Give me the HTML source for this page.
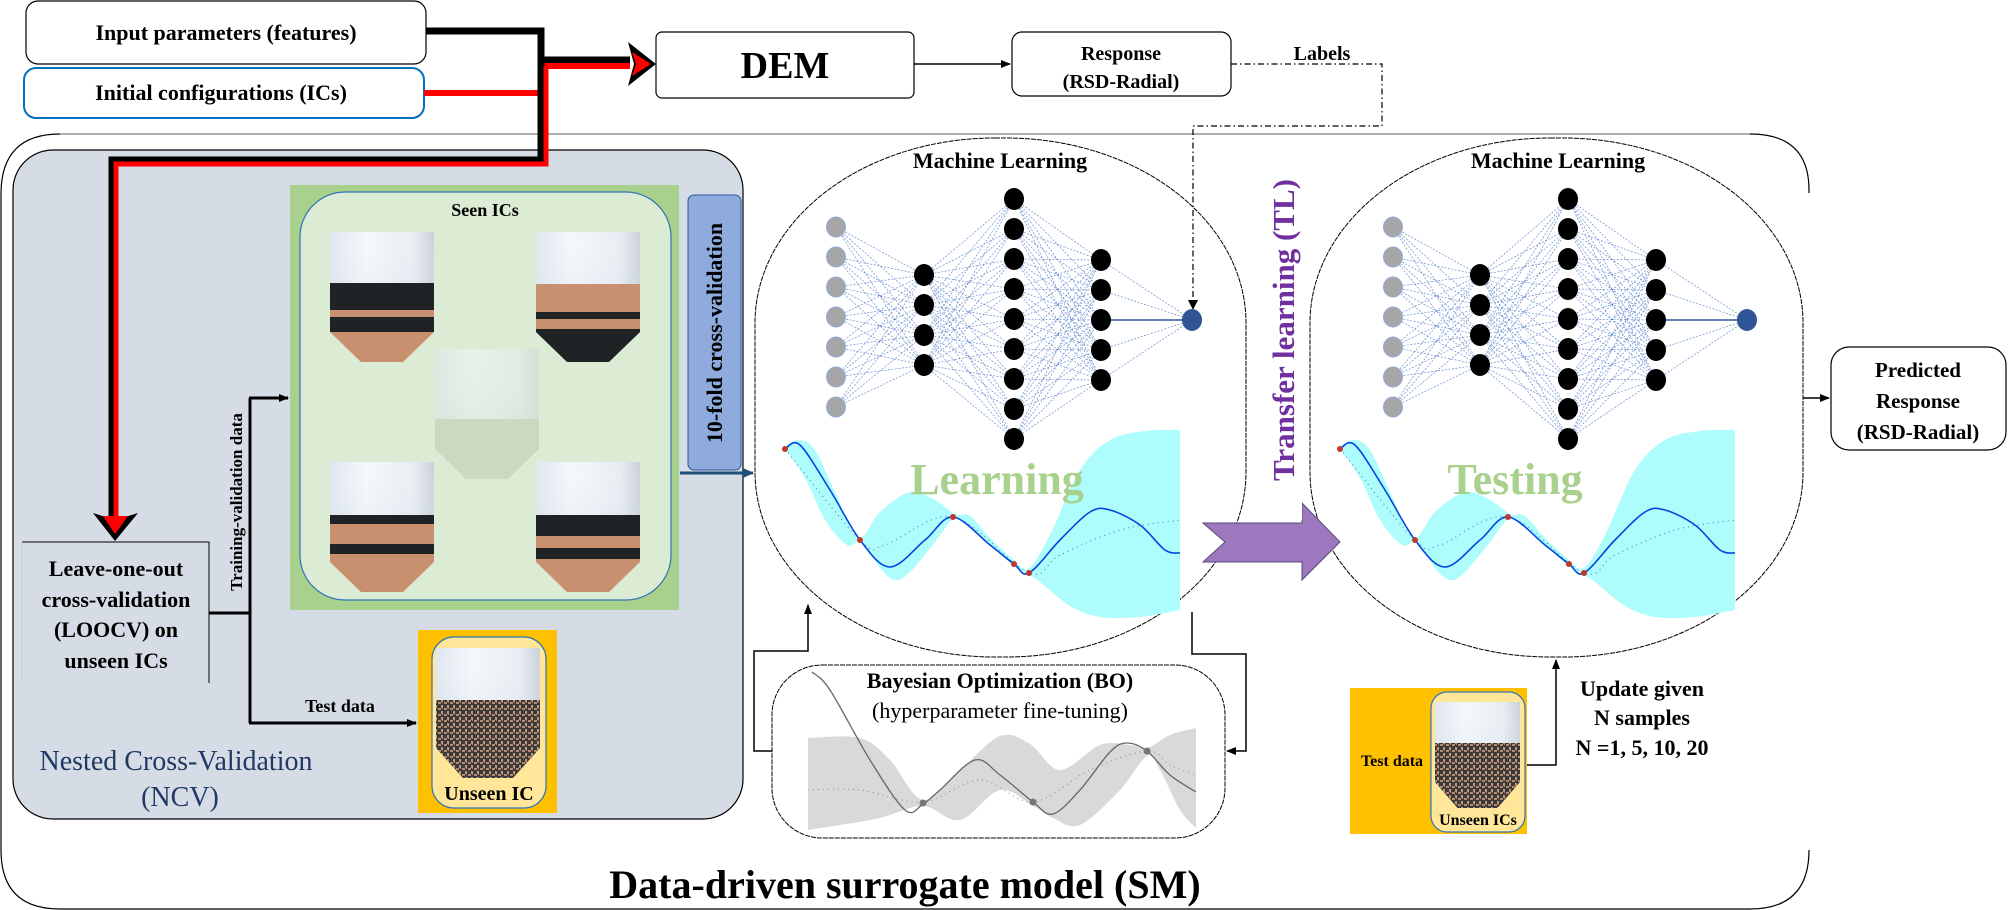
<!DOCTYPE html>
<html><head><meta charset="utf-8">
<style>
html,body{margin:0;padding:0;background:#fff;}
svg{display:block;}
text{font-family:"Liberation Serif",serif;}
</style></head>
<body>
<svg id="s" width="2008" height="910" viewBox="0 0 2008 910" xmlns="http://www.w3.org/2000/svg">
<defs>
<linearGradient id="cyl" x1="0" x2="1" y1="0" y2="0">
<stop offset="0" stop-color="#dfe6ef"/><stop offset="0.35" stop-color="#f4f8fc"/><stop offset="0.8" stop-color="#e8edf3"/><stop offset="1" stop-color="#c9d0d8"/></linearGradient>
<linearGradient id="cylv" x1="0" x2="0" y1="0" y2="1">
<stop offset="0" stop-color="#ffffff" stop-opacity="0"/><stop offset="1" stop-color="#b8c8d8" stop-opacity="0.5"/></linearGradient>
<pattern id="mix" width="6" height="6" patternUnits="userSpaceOnUse">
<rect width="6" height="6" fill="#3b3a3a"/><rect x="0" y="0" width="3" height="2" fill="#b88a70"/><rect x="3" y="3" width="2" height="3" fill="#c29577"/><rect x="4" y="0" width="1" height="1" fill="#9c7a66"/></pattern>
<marker id="ah" markerWidth="10" markerHeight="10" refX="9" refY="5" orient="auto" markerUnits="userSpaceOnUse"><path d="M0,1 L10,5 L0,9 Z" fill="#000"/></marker>
<marker id="ahb" markerWidth="12" markerHeight="12" refX="10" refY="6" orient="auto" markerUnits="userSpaceOnUse"><path d="M0,1 L11,6 L0,11 Z" fill="#1f4e79"/></marker>
</defs>

<path d="M1809,193 L1809,190 Q1809,134 1750,134 L60,134 Q1,134 1,194 L1,850 Q1,909 60,909 L1750,909 Q1809,909 1809,850" fill="none" stroke="#000" stroke-width="1.2"/>
<line x1="60" y1="134" x2="1750" y2="134" stroke="#aaa" stroke-width="1.5"/>

<rect x="13" y="150" width="730" height="669" rx="40" fill="#d6dce5" stroke="#000" stroke-width="1.2"/>

<rect x="290" y="185" width="389" height="425" fill="#a9d18e"/>
<rect x="300" y="192" width="371" height="408" rx="45" fill="#dcebd3" stroke="#2e75b6" stroke-width="1.2"/>
<text x="485" y="216" font-size="18" font-weight="bold" text-anchor="middle">Seen ICs</text>

<rect x="688" y="195" width="53" height="275" rx="6" fill="#8faadc" stroke="#2f5597" stroke-width="1"/>
<text transform="translate(722,333) rotate(-90)" font-size="22" font-weight="bold" text-anchor="middle">10-fold cross-validation</text>
<line x1="680" y1="473" x2="753" y2="473" stroke="#1f4e79" stroke-width="3" marker-end="url(#ahb)"/>

<rect x="418" y="630" width="139" height="183" fill="#ffc000"/>
<rect x="432" y="637" width="114" height="171" rx="22" fill="#ffe699" stroke="#2e75b6" stroke-width="1.2"/>
<text x="489" y="800" font-size="20" font-weight="bold" text-anchor="middle">Unseen IC</text>

<path d="M22,542 L209,542 L209,683" fill="none" stroke="#000" stroke-width="1"/>
<line x1="22" y1="542" x2="22" y2="683" stroke="#c8ccd4" stroke-width="1"/>
<g font-size="22" font-weight="bold" text-anchor="middle">
<text x="116" y="576">Leave-one-out</text>
<text x="116" y="607">cross-validation</text>
<text x="116" y="637">(LOOCV) on</text>
<text x="116" y="668">unseen ICs</text>
</g>
<path d="M209,613 L250,613 M250,398 L250,723" fill="none" stroke="#000" stroke-width="3"/>
<line x1="249" y1="398" x2="288" y2="398" stroke="#000" stroke-width="3" marker-end="url(#ah)"/>
<line x1="249" y1="723" x2="416" y2="723" stroke="#000" stroke-width="3" marker-end="url(#ah)"/>
<text transform="translate(242,502) rotate(-90)" font-size="17" font-weight="bold" text-anchor="middle">Training-validation data</text>
<text x="340" y="712" font-size="18" font-weight="bold" text-anchor="middle">Test data</text>
<text x="176" y="770" font-size="28" fill="#203864" text-anchor="middle">Nested Cross-Validation</text>
<text x="180" y="806" font-size="28" fill="#203864" text-anchor="middle">(NCV)</text>

<rect x="26" y="1" width="400" height="63" rx="12" fill="#fff" stroke="#000" stroke-width="1.2"/>
<text x="226" y="40" font-size="22" font-weight="bold" text-anchor="middle">Input parameters (features)</text>
<rect x="24" y="68" width="400" height="50" rx="12" fill="#fff" stroke="#0070c0" stroke-width="2"/>
<text x="221" y="100" font-size="22" font-weight="bold" text-anchor="middle">Initial configurations (ICs)</text>
<rect x="656" y="32" width="258" height="66" rx="6" fill="#fff" stroke="#000" stroke-width="1.2"/>
<text x="785" y="78" font-size="38" font-weight="bold" text-anchor="middle">DEM</text>
<line x1="914" y1="64" x2="1010" y2="64" stroke="#000" stroke-width="1.5" marker-end="url(#ah)"/>
<rect x="1012" y="32" width="219" height="64" rx="10" fill="#fff" stroke="#000" stroke-width="1.2"/>
<text x="1121" y="60" font-size="20" font-weight="bold" text-anchor="middle">Response</text>
<text x="1121" y="88" font-size="20" font-weight="bold" text-anchor="middle">(RSD-Radial)</text>
<text x="1322" y="60" font-size="20" font-weight="bold" text-anchor="middle">Labels</text>
<path d="M1231,64 L1382,64 L1382,126 L1193,126 L1193,306" fill="none" stroke="#000" stroke-width="1.2" stroke-dasharray="6,3,1.5,3"/>
<path d="M1188,300 L1193,310 L1198,300 Z" fill="#000"/>

<path d="M426,31 L541,31 L541,60 L630,60" fill="none" stroke="#000" stroke-width="7"/>
<path d="M424,93 L543,93 L543,66 L630,66" fill="none" stroke="#f00" stroke-width="6"/>
<path d="M628,42 L656,64 L628,86 L634,64 Z" fill="#000"/>
<path d="M632,52 L651,64 L632,76 L636,64 Z" fill="#f00"/>
<path d="M541,60 L541,160 L112,160 L112,520" fill="none" stroke="#000" stroke-width="7"/>
<path d="M546,66 L546,164 L116,164 L116,522" fill="none" stroke="#f00" stroke-width="5"/>
<path d="M93,513 L115,541 L138,513 L115,520 Z" fill="#000"/>
<path d="M103,516 L115,534 L128,516 Z" fill="#f00"/>

<rect x="755" y="138" width="491" height="519" rx="240" ry="185" fill="none" stroke="#000" stroke-width="1" stroke-dasharray="5,1"/>
<rect x="1310" y="138" width="493" height="519" rx="240" ry="185" fill="none" stroke="#000" stroke-width="1" stroke-dasharray="5,1"/>
<text x="1000" y="168" font-size="22" font-weight="bold" text-anchor="middle">Machine Learning</text>
<text x="1558" y="168" font-size="22" font-weight="bold" text-anchor="middle">Machine Learning</text>
<g id="nn"></g>
<g id="gp"></g>
<text x="997" y="494" font-size="44" font-weight="bold" fill="#a9d18e" text-anchor="middle">Learning</text>
<text x="1515" y="494" font-size="44" font-weight="bold" fill="#a9d18e" text-anchor="middle">Testing</text>

<path d="M1203,523 L1302,523 L1302,503 L1340,542 L1302,580 L1302,562 L1203,562 L1225,542 Z" fill="#9e78be" stroke="#5b4a7a" stroke-width="1"/>
<rect x="1266" y="140" width="36" height="380" fill="#fff"/>
<text transform="translate(1294,330) rotate(-90)" font-size="31" font-weight="bold" fill="#7030a0" text-anchor="middle">Transfer learning (TL)</text>

<line x1="1803" y1="398" x2="1829" y2="398" stroke="#000" stroke-width="1.5" marker-end="url(#ah)"/>
<rect x="1831" y="347" width="175" height="103" rx="18" fill="#fff" stroke="#000" stroke-width="1.2"/>
<g font-size="21" font-weight="bold" text-anchor="middle">
<text x="1918" y="377">Predicted</text><text x="1918" y="408">Response</text><text x="1918" y="439">(RSD-Radial)</text></g>

<rect x="772" y="665" width="453" height="173" rx="50" fill="#fff" stroke="#000" stroke-width="1" stroke-dasharray="5,1"/>
<g id="bo"></g>
<text x="1000" y="688" font-size="22" font-weight="bold" text-anchor="middle">Bayesian Optimization (BO)</text>
<text x="1000" y="718" font-size="22" text-anchor="middle">(hyperparameter fine-tuning)</text>
<path d="M772,751 L754,751 L754,651 L808,651 L808,605" fill="none" stroke="#000" stroke-width="1.5" marker-end="url(#ah)"/>
<path d="M1192,612 L1192,654 L1246,654 L1246,751 L1227,751" fill="none" stroke="#000" stroke-width="1.5" marker-end="url(#ah)"/>

<rect x="1350" y="688" width="177" height="146" fill="#ffc000"/>
<rect x="1431" y="692" width="94" height="140" rx="16" fill="#ffe699" stroke="#2e75b6" stroke-width="1.2"/>
<text x="1392" y="766" font-size="16" font-weight="bold" text-anchor="middle">Test data</text>
<text x="1478" y="825" font-size="16" font-weight="bold" text-anchor="middle">Unseen ICs</text>
<path d="M1527,765 L1556,765 L1556,660" fill="none" stroke="#000" stroke-width="1.5" marker-end="url(#ah)"/>
<g font-size="22" font-weight="bold" text-anchor="middle">
<text x="1642" y="696">Update given</text><text x="1642" y="725">N samples</text><text x="1642" y="755">N =1, 5, 10, 20</text></g>

<text x="905" y="898" font-size="40" font-weight="bold" text-anchor="middle">Data-driven surrogate model (SM)</text>
<g id="silos"></g>
</svg>
<script>
var NS="http://www.w3.org/2000/svg";
function el(p,t,a){var e=document.createElementNS(NS,t);for(var k in a)e.setAttribute(k,a[k]);p.appendChild(e);return e;}
var nn=document.getElementById('nn');
var ys=[[227,257,287,317,347,377,407],[275,305,335,365],[199,229,259,289,319,349,379,409,439],[260,290,320,350,380],[320]];
[[836,924,1014,1101,1192],[1393,1480,1568,1656,1747]].forEach(function(xs){
 for(var l=0;l<4;l++)ys[l].forEach(function(a){ys[l+1].forEach(function(b){
  el(nn,'line',{x1:xs[l],y1:a,x2:xs[l+1],y2:b,stroke:'#4472c4','stroke-width':0.7,'stroke-dasharray':'2,1.5',opacity:0.8});});});
 el(nn,'line',{x1:xs[3],y1:320,x2:xs[4],y2:320,stroke:'#2f5597','stroke-width':1.5});
 ys.forEach(function(c,l){c.forEach(function(y){
  var f=l==0?'#a6a6a6':(l==4?'#2f5597':'#000');
  el(nn,'ellipse',{cx:xs[l],cy:y,rx:l==0?9.5:10,ry:l==0?10:11,fill:f,stroke:l==0?'#8faadc':'none','stroke-width':1});});});
});
function cr(pts){var d='M'+pts[0][0]+','+pts[0][1];for(var i=0;i<pts.length-1;i++){var p0=pts[i-1]||pts[i],p1=pts[i],p2=pts[i+1],p3=pts[i+2]||p2;
 d+=' C'+(p1[0]+(p2[0]-p0[0])/6)+','+(p1[1]+(p2[1]-p0[1])/6)+' '+(p2[0]-(p3[0]-p1[0])/6)+','+(p2[1]-(p3[1]-p1[1])/6)+' '+p2[0]+','+p2[1];}return d;}
var gp=document.getElementById('gp');
var up=[[785,446],[800,440],[815,450],[835,492],[858,538],[880,512],[910,492],[935,500],[955,514],[970,516],[990,538],[1014,560],[1029,568],[1050,535],[1080,470],[1110,440],[1145,431],[1180,430]];
var lo=[[1180,610],[1140,617],[1100,617],[1070,606],[1040,582],[1029,575],[1014,566],[990,545],[965,524],[953,519],[935,542],[910,572],[895,580],[880,568],[862,542],[847,545],[825,520],[805,478],[785,449]];
var mean=[[785,449],[800,445],[830,490],[860,540],[890,567],[925,540],[953,517],[990,545],[1014,564],[1029,573],[1060,540],[1090,512],[1110,510],[1140,525],[1165,550],[1180,553]];
var dot=[[785,449],[860,540],[885,545],[953,517],[1029,573],[1060,555],[1120,530],[1180,520]];
var reds=[[785,449],[860,540],[953,517],[1014,564],[1029,573]];
[0,555].forEach(function(o){
 var sh=function(a){return a.map(function(p){return [p[0]+o,p[1]];});};
 var g=el(gp,'g',{});
 el(g,'path',{d:cr(sh(up))+' L'+(lo[0][0]+o)+','+lo[0][1]+' '+cr(sh(lo)).slice(1)+'Z',fill:'#aefcfc',stroke:'none'});
 el(g,'path',{d:cr(sh(dot)),fill:'none',stroke:'#4472c4','stroke-width':1,'stroke-dasharray':'1,4'});
 el(g,'path',{d:cr(sh(mean)),fill:'none',stroke:'#0047e0','stroke-width':1.6});
 sh(reds).forEach(function(p){el(g,'circle',{cx:p[0],cy:p[1],r:3,fill:'#c0392b'});});
});
var bo=document.getElementById('bo');
var bu=[[808,738],[860,738],[890,760],[923,800],[960,770],[1000,736],[1030,744],[1060,770],[1100,745],[1130,745],[1147,748],[1170,735],[1196,728]];
var bl=[[1196,828],[1180,810],[1160,770],[1147,756],[1120,790],[1080,825],[1053,818],[1033,806],[1000,790],[960,820],[923,806],[880,818],[840,825],[808,830]];
el(bo,'path',{d:cr(bu)+' L1196,828 '+cr(bl).slice(1)+'Z',fill:'#d9d9d9'});
el(bo,'path',{d:cr([[808,790],[860,790],[923,802],[980,780],[1033,802],[1090,770],[1147,751],[1170,765],[1196,775]]),fill:'none',stroke:'#888','stroke-width':1,'stroke-dasharray':'1,4'});
el(bo,'path',{d:cr([[812,672],[830,690],[870,760],[905,810],[923,804],[940,790],[975,760],[1000,775],[1033,802],[1053,814],[1080,790],[1110,752],[1127,743],[1147,751],[1170,775],[1196,792]]),fill:'none',stroke:'#666','stroke-width':1.3});
[[923,803],[1033,802],[1147,751]].forEach(function(p){el(bo,'circle',{cx:p[0],cy:p[1],r:3.5,fill:'#777'});});
var sg=document.getElementById('silos');
function silo(x,y,w,ch,hh,bw,layers,hop,op){
 var g=el(sg,'g',{opacity:op||1});
 var hl=x+(w-bw)/2;
 el(g,'rect',{x:x,y:y,width:w,height:ch,fill:'url(#cyl)'});
 el(g,'rect',{x:x,y:y,width:w,height:ch,fill:'url(#cylv)'});
 layers.forEach(function(L){el(g,'rect',{x:x,y:y+L[0],width:w,height:L[1]-L[0],fill:L[2]});});
 el(g,'path',{d:'M'+x+','+(y+ch)+' L'+(x+w)+','+(y+ch)+' L'+(hl+bw)+','+(y+ch+hh)+' L'+hl+','+(y+ch+hh)+'Z',fill:hop});
}
var K='#1f2326',C='#c9906f';
silo(435,349,104,100,30,42,[[70,100,'#b9c9ae']],'#b9c9ae',0.5);
silo(330,232,104,100,30,42,[[51,78,K],[78,85,C],[85,100,K]],C);
silo(536,232,104,100,30,42,[[52,80,C],[80,87,K],[87,97,C],[97,100,K]],K);
silo(330,462,104,100,30,42,[[53,62,K],[62,82,C],[82,92,K],[92,100,C]],C);
silo(536,462,104,100,30,42,[[53,74,K],[74,86,C],[86,97,K],[97,100,C]],C);
silo(436,648,104,100,30,50,[[52,100,'url(#mix)']],'url(#mix)');
silo(1435,702,85,80,26,40,[[41,80,'url(#mix)']],'url(#mix)');
</script>
</body></html>
